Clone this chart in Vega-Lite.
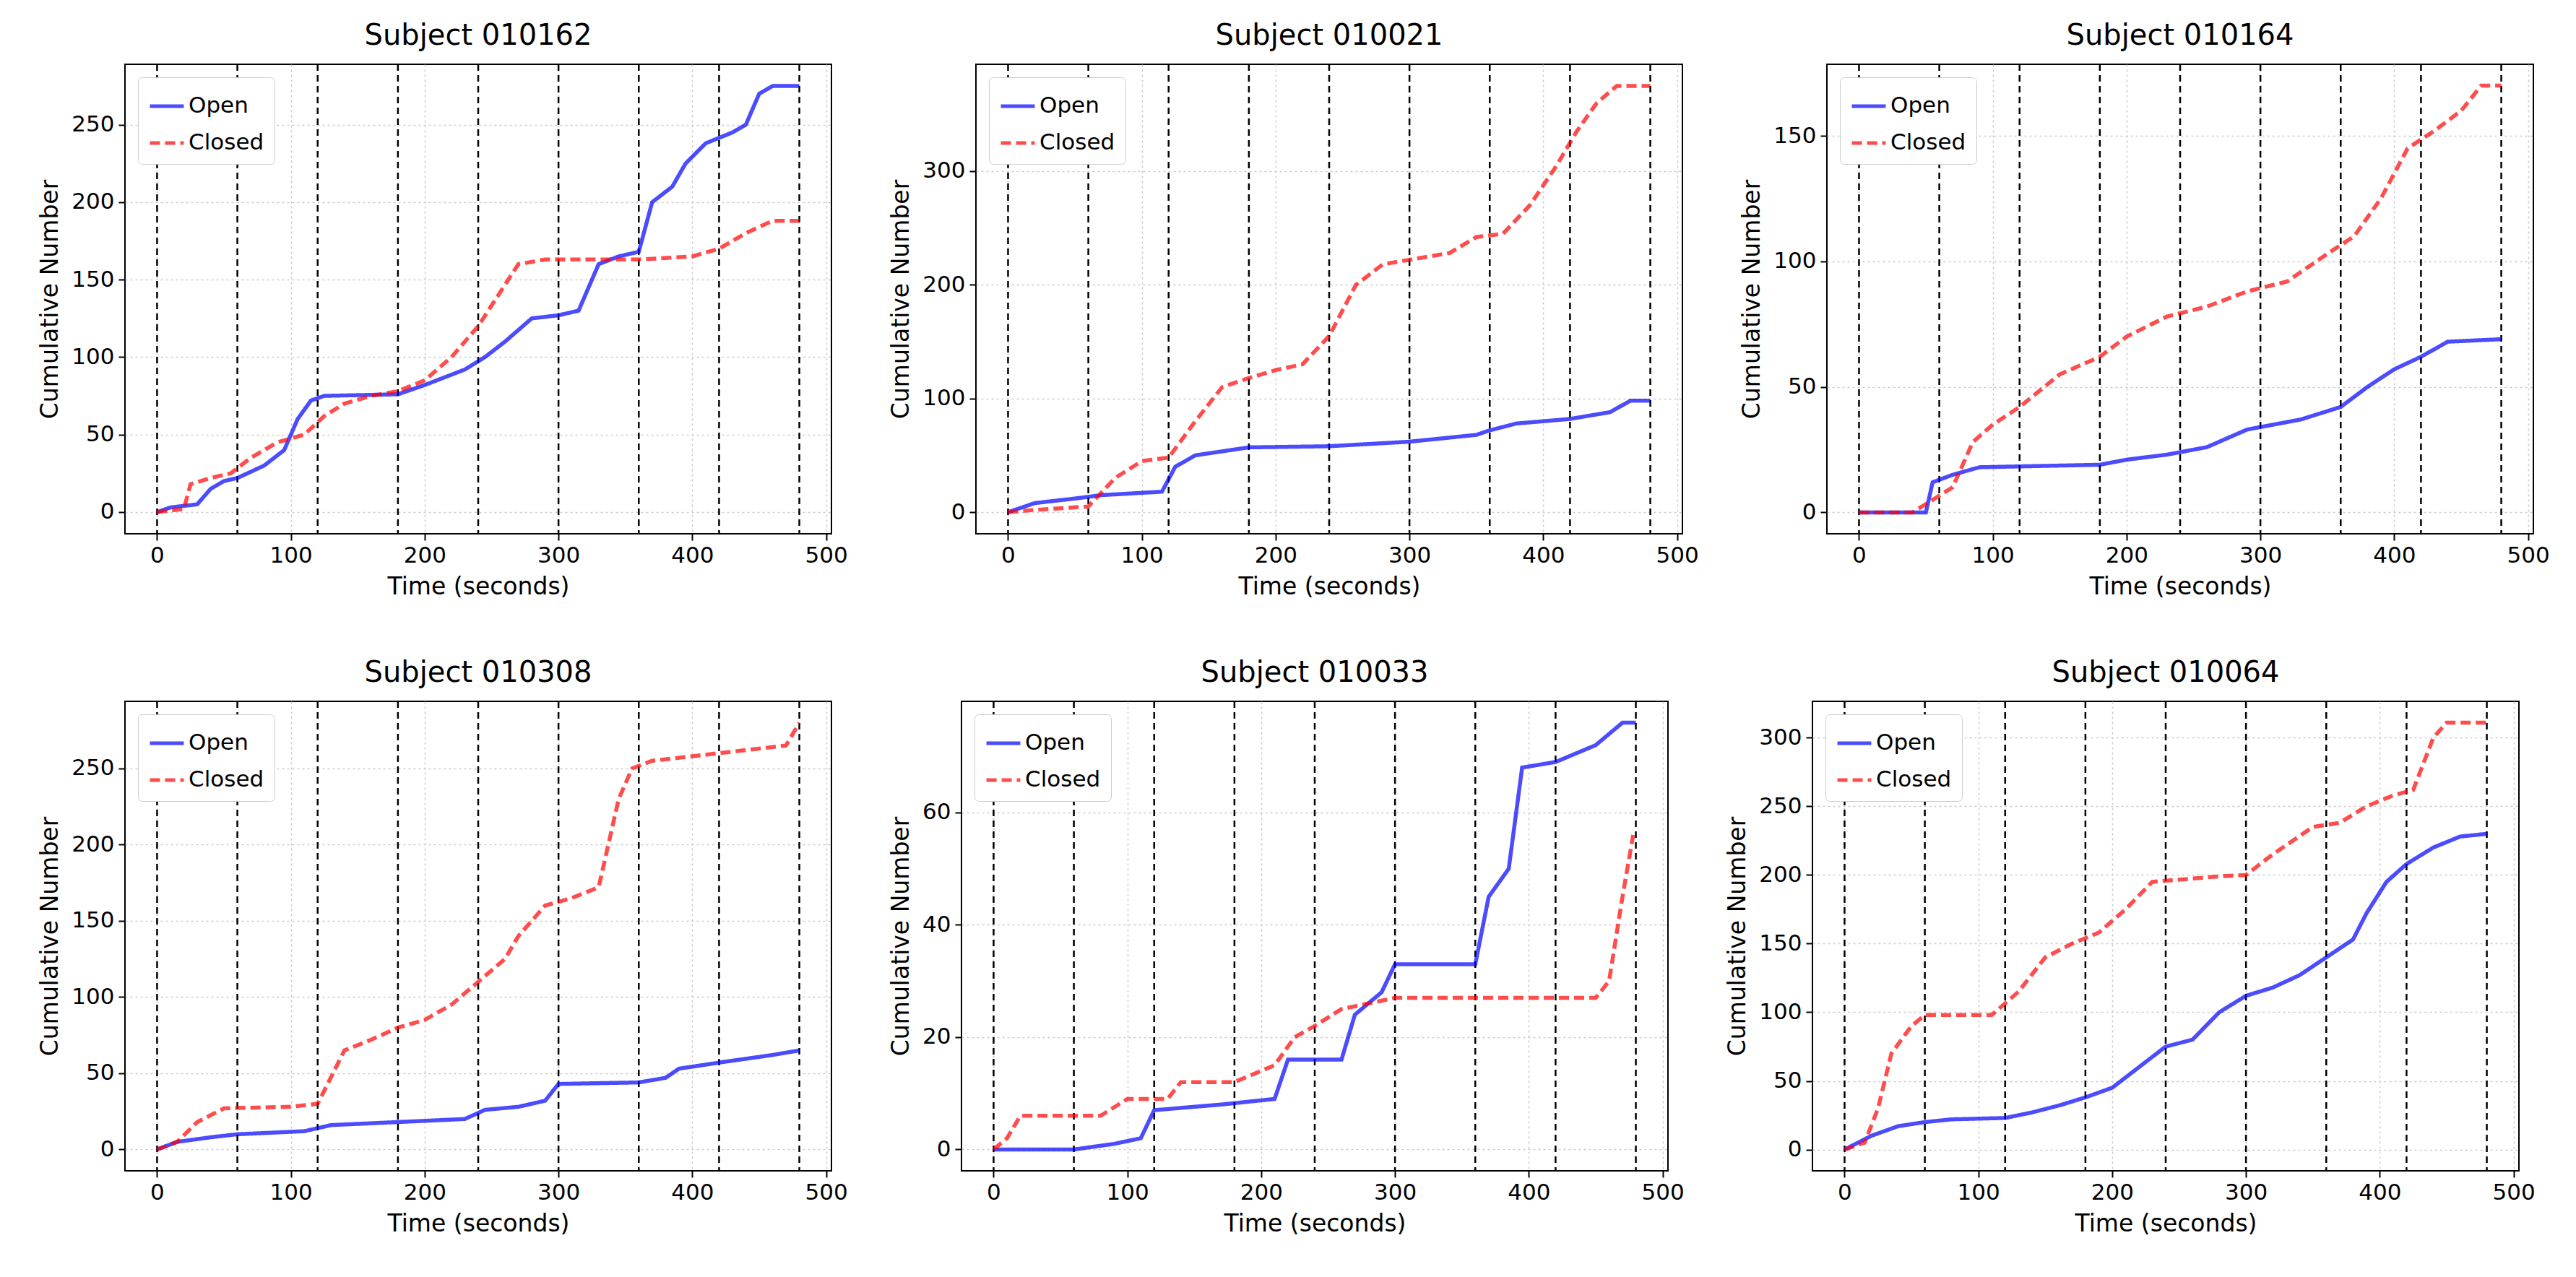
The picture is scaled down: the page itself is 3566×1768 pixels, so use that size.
{"$schema":"https://vega.github.io/schema/vega-lite/v6.json","background":"white","padding":{"left":52,"top":28,"right":20,"bottom":10},
"config":{"font":"DejaVu Sans","view":{"stroke":"black","strokeWidth":2},"title":{"fontSize":40,"fontWeight":"normal","font":"DejaVu Sans","offset":18},
"axis":{"labelFontSize":31,"titleFontSize":33,"titleFontWeight":"normal","labelFont":"DejaVu Sans","titleFont":"DejaVu Sans","grid":true,"gridColor":"#cccccc","gridDash":[3,4],"gridWidth":1.5,"domain":false,"tickColor":"black","tickWidth":2,"tickSize":9,"labelColor":"black","titleColor":"black","labelPadding":6,"titlePadding":12},
"legend":{"orient":"top-left","offset":18,"labelFontSize":31,"symbolType":"stroke","symbolSize":2200,"symbolStrokeWidth":5,"fillColor":"white","strokeColor":"#cccccc","cornerRadius":6,"padding":14,"rowPadding":10,"labelColor":"black"}},
"datasets":{"vl":[{"t":0},{"t":60},{"t":120},{"t":180},{"t":240},{"t":300},{"t":360},{"t":420},{"t":480}],
"d":[
{"s":"010162","c":"Open","t":0,"n":0},{"s":"010162","c":"Open","t":10,"n":3},{"s":"010162","c":"Open","t":30,"n":5},{"s":"010162","c":"Open","t":40,"n":15},{"s":"010162","c":"Open","t":50,"n":20},{"s":"010162","c":"Open","t":60,"n":22},{"s":"010162","c":"Open","t":80,"n":30},{"s":"010162","c":"Open","t":95,"n":40},{"s":"010162","c":"Open","t":105,"n":60},{"s":"010162","c":"Open","t":115,"n":72},{"s":"010162","c":"Open","t":125,"n":75},{"s":"010162","c":"Open","t":180,"n":76},{"s":"010162","c":"Open","t":200,"n":82},{"s":"010162","c":"Open","t":230,"n":92},{"s":"010162","c":"Open","t":245,"n":100},{"s":"010162","c":"Open","t":260,"n":110},{"s":"010162","c":"Open","t":280,"n":125},{"s":"010162","c":"Open","t":300,"n":127},{"s":"010162","c":"Open","t":315,"n":130},{"s":"010162","c":"Open","t":330,"n":160},{"s":"010162","c":"Open","t":345,"n":165},{"s":"010162","c":"Open","t":360,"n":168},{"s":"010162","c":"Open","t":370,"n":200},{"s":"010162","c":"Open","t":385,"n":210},{"s":"010162","c":"Open","t":395,"n":225},{"s":"010162","c":"Open","t":410,"n":238},{"s":"010162","c":"Open","t":430,"n":245},{"s":"010162","c":"Open","t":440,"n":250},{"s":"010162","c":"Open","t":450,"n":270},{"s":"010162","c":"Open","t":460,"n":275},{"s":"010162","c":"Open","t":480,"n":275},
{"s":"010162","c":"Closed","t":0,"n":0},{"s":"010162","c":"Closed","t":20,"n":2},{"s":"010162","c":"Closed","t":25,"n":18},{"s":"010162","c":"Closed","t":40,"n":22},{"s":"010162","c":"Closed","t":55,"n":25},{"s":"010162","c":"Closed","t":70,"n":35},{"s":"010162","c":"Closed","t":90,"n":45},{"s":"010162","c":"Closed","t":110,"n":50},{"s":"010162","c":"Closed","t":125,"n":62},{"s":"010162","c":"Closed","t":140,"n":70},{"s":"010162","c":"Closed","t":160,"n":75},{"s":"010162","c":"Closed","t":180,"n":78},{"s":"010162","c":"Closed","t":200,"n":85},{"s":"010162","c":"Closed","t":220,"n":100},{"s":"010162","c":"Closed","t":240,"n":120},{"s":"010162","c":"Closed","t":255,"n":140},{"s":"010162","c":"Closed","t":270,"n":160},{"s":"010162","c":"Closed","t":290,"n":163},{"s":"010162","c":"Closed","t":360,"n":163},{"s":"010162","c":"Closed","t":400,"n":165},{"s":"010162","c":"Closed","t":420,"n":170},{"s":"010162","c":"Closed","t":440,"n":180},{"s":"010162","c":"Closed","t":460,"n":188},{"s":"010162","c":"Closed","t":480,"n":188},
{"s":"010021","c":"Open","t":0,"n":0},{"s":"010021","c":"Open","t":20,"n":8},{"s":"010021","c":"Open","t":50,"n":12},{"s":"010021","c":"Open","t":70,"n":15},{"s":"010021","c":"Open","t":115,"n":18},{"s":"010021","c":"Open","t":125,"n":40},{"s":"010021","c":"Open","t":140,"n":50},{"s":"010021","c":"Open","t":180,"n":57},{"s":"010021","c":"Open","t":240,"n":58},{"s":"010021","c":"Open","t":300,"n":62},{"s":"010021","c":"Open","t":350,"n":68},{"s":"010021","c":"Open","t":360,"n":72},{"s":"010021","c":"Open","t":380,"n":78},{"s":"010021","c":"Open","t":420,"n":82},{"s":"010021","c":"Open","t":450,"n":88},{"s":"010021","c":"Open","t":465,"n":98},{"s":"010021","c":"Open","t":480,"n":98},
{"s":"010021","c":"Closed","t":0,"n":0},{"s":"010021","c":"Closed","t":20,"n":2},{"s":"010021","c":"Closed","t":60,"n":5},{"s":"010021","c":"Closed","t":80,"n":30},{"s":"010021","c":"Closed","t":100,"n":45},{"s":"010021","c":"Closed","t":120,"n":48},{"s":"010021","c":"Closed","t":140,"n":80},{"s":"010021","c":"Closed","t":160,"n":110},{"s":"010021","c":"Closed","t":180,"n":118},{"s":"010021","c":"Closed","t":200,"n":125},{"s":"010021","c":"Closed","t":220,"n":130},{"s":"010021","c":"Closed","t":240,"n":155},{"s":"010021","c":"Closed","t":260,"n":200},{"s":"010021","c":"Closed","t":280,"n":218},{"s":"010021","c":"Closed","t":300,"n":222},{"s":"010021","c":"Closed","t":330,"n":228},{"s":"010021","c":"Closed","t":350,"n":242},{"s":"010021","c":"Closed","t":370,"n":245},{"s":"010021","c":"Closed","t":390,"n":270},{"s":"010021","c":"Closed","t":410,"n":305},{"s":"010021","c":"Closed","t":425,"n":335},{"s":"010021","c":"Closed","t":440,"n":360},{"s":"010021","c":"Closed","t":455,"n":375},{"s":"010021","c":"Closed","t":480,"n":375},
{"s":"010164","c":"Open","t":0,"n":0},{"s":"010164","c":"Open","t":50,"n":0},{"s":"010164","c":"Open","t":55,"n":12},{"s":"010164","c":"Open","t":70,"n":15},{"s":"010164","c":"Open","t":90,"n":18},{"s":"010164","c":"Open","t":180,"n":19},{"s":"010164","c":"Open","t":200,"n":21},{"s":"010164","c":"Open","t":230,"n":23},{"s":"010164","c":"Open","t":260,"n":26},{"s":"010164","c":"Open","t":290,"n":33},{"s":"010164","c":"Open","t":330,"n":37},{"s":"010164","c":"Open","t":360,"n":42},{"s":"010164","c":"Open","t":380,"n":50},{"s":"010164","c":"Open","t":400,"n":57},{"s":"010164","c":"Open","t":420,"n":62},{"s":"010164","c":"Open","t":440,"n":68},{"s":"010164","c":"Open","t":480,"n":69},
{"s":"010164","c":"Closed","t":0,"n":0},{"s":"010164","c":"Closed","t":40,"n":0},{"s":"010164","c":"Closed","t":55,"n":5},{"s":"010164","c":"Closed","t":70,"n":10},{"s":"010164","c":"Closed","t":85,"n":28},{"s":"010164","c":"Closed","t":100,"n":35},{"s":"010164","c":"Closed","t":120,"n":42},{"s":"010164","c":"Closed","t":150,"n":55},{"s":"010164","c":"Closed","t":180,"n":62},{"s":"010164","c":"Closed","t":200,"n":70},{"s":"010164","c":"Closed","t":230,"n":78},{"s":"010164","c":"Closed","t":260,"n":82},{"s":"010164","c":"Closed","t":290,"n":88},{"s":"010164","c":"Closed","t":320,"n":92},{"s":"010164","c":"Closed","t":350,"n":103},{"s":"010164","c":"Closed","t":370,"n":110},{"s":"010164","c":"Closed","t":390,"n":125},{"s":"010164","c":"Closed","t":410,"n":145},{"s":"010164","c":"Closed","t":430,"n":152},{"s":"010164","c":"Closed","t":450,"n":160},{"s":"010164","c":"Closed","t":465,"n":170},{"s":"010164","c":"Closed","t":480,"n":170},
{"s":"010308","c":"Open","t":0,"n":0},{"s":"010308","c":"Open","t":15,"n":5},{"s":"010308","c":"Open","t":40,"n":8},{"s":"010308","c":"Open","t":60,"n":10},{"s":"010308","c":"Open","t":110,"n":12},{"s":"010308","c":"Open","t":130,"n":16},{"s":"010308","c":"Open","t":180,"n":18},{"s":"010308","c":"Open","t":230,"n":20},{"s":"010308","c":"Open","t":245,"n":26},{"s":"010308","c":"Open","t":270,"n":28},{"s":"010308","c":"Open","t":290,"n":32},{"s":"010308","c":"Open","t":300,"n":43},{"s":"010308","c":"Open","t":360,"n":44},{"s":"010308","c":"Open","t":380,"n":47},{"s":"010308","c":"Open","t":390,"n":53},{"s":"010308","c":"Open","t":420,"n":57},{"s":"010308","c":"Open","t":460,"n":62},{"s":"010308","c":"Open","t":480,"n":65},
{"s":"010308","c":"Closed","t":0,"n":0},{"s":"010308","c":"Closed","t":15,"n":5},{"s":"010308","c":"Closed","t":30,"n":18},{"s":"010308","c":"Closed","t":50,"n":27},{"s":"010308","c":"Closed","t":100,"n":28},{"s":"010308","c":"Closed","t":120,"n":30},{"s":"010308","c":"Closed","t":140,"n":65},{"s":"010308","c":"Closed","t":160,"n":72},{"s":"010308","c":"Closed","t":180,"n":80},{"s":"010308","c":"Closed","t":200,"n":85},{"s":"010308","c":"Closed","t":220,"n":95},{"s":"010308","c":"Closed","t":240,"n":110},{"s":"010308","c":"Closed","t":260,"n":125},{"s":"010308","c":"Closed","t":270,"n":140},{"s":"010308","c":"Closed","t":290,"n":160},{"s":"010308","c":"Closed","t":310,"n":165},{"s":"010308","c":"Closed","t":330,"n":172},{"s":"010308","c":"Closed","t":345,"n":230},{"s":"010308","c":"Closed","t":355,"n":250},{"s":"010308","c":"Closed","t":370,"n":255},{"s":"010308","c":"Closed","t":400,"n":258},{"s":"010308","c":"Closed","t":440,"n":262},{"s":"010308","c":"Closed","t":470,"n":265},{"s":"010308","c":"Closed","t":480,"n":280},
{"s":"010033","c":"Open","t":0,"n":0},{"s":"010033","c":"Open","t":60,"n":0},{"s":"010033","c":"Open","t":90,"n":1},{"s":"010033","c":"Open","t":110,"n":2},{"s":"010033","c":"Open","t":120,"n":7},{"s":"010033","c":"Open","t":170,"n":8},{"s":"010033","c":"Open","t":210,"n":9},{"s":"010033","c":"Open","t":220,"n":16},{"s":"010033","c":"Open","t":260,"n":16},{"s":"010033","c":"Open","t":270,"n":24},{"s":"010033","c":"Open","t":290,"n":28},{"s":"010033","c":"Open","t":300,"n":33},{"s":"010033","c":"Open","t":360,"n":33},{"s":"010033","c":"Open","t":370,"n":45},{"s":"010033","c":"Open","t":385,"n":50},{"s":"010033","c":"Open","t":395,"n":68},{"s":"010033","c":"Open","t":420,"n":69},{"s":"010033","c":"Open","t":450,"n":72},{"s":"010033","c":"Open","t":470,"n":76},{"s":"010033","c":"Open","t":480,"n":76},
{"s":"010033","c":"Closed","t":0,"n":0},{"s":"010033","c":"Closed","t":10,"n":2},{"s":"010033","c":"Closed","t":20,"n":6},{"s":"010033","c":"Closed","t":80,"n":6},{"s":"010033","c":"Closed","t":100,"n":9},{"s":"010033","c":"Closed","t":130,"n":9},{"s":"010033","c":"Closed","t":140,"n":12},{"s":"010033","c":"Closed","t":180,"n":12},{"s":"010033","c":"Closed","t":210,"n":15},{"s":"010033","c":"Closed","t":225,"n":20},{"s":"010033","c":"Closed","t":240,"n":22},{"s":"010033","c":"Closed","t":260,"n":25},{"s":"010033","c":"Closed","t":300,"n":27},{"s":"010033","c":"Closed","t":450,"n":27},{"s":"010033","c":"Closed","t":460,"n":30},{"s":"010033","c":"Closed","t":470,"n":45},{"s":"010033","c":"Closed","t":478,"n":56},
{"s":"010064","c":"Open","t":0,"n":0},{"s":"010064","c":"Open","t":20,"n":10},{"s":"010064","c":"Open","t":40,"n":17},{"s":"010064","c":"Open","t":60,"n":20},{"s":"010064","c":"Open","t":80,"n":22},{"s":"010064","c":"Open","t":120,"n":23},{"s":"010064","c":"Open","t":140,"n":27},{"s":"010064","c":"Open","t":160,"n":32},{"s":"010064","c":"Open","t":180,"n":38},{"s":"010064","c":"Open","t":200,"n":45},{"s":"010064","c":"Open","t":220,"n":60},{"s":"010064","c":"Open","t":240,"n":75},{"s":"010064","c":"Open","t":260,"n":80},{"s":"010064","c":"Open","t":280,"n":100},{"s":"010064","c":"Open","t":300,"n":112},{"s":"010064","c":"Open","t":320,"n":118},{"s":"010064","c":"Open","t":340,"n":127},{"s":"010064","c":"Open","t":360,"n":140},{"s":"010064","c":"Open","t":380,"n":153},{"s":"010064","c":"Open","t":390,"n":172},{"s":"010064","c":"Open","t":405,"n":195},{"s":"010064","c":"Open","t":420,"n":208},{"s":"010064","c":"Open","t":440,"n":220},{"s":"010064","c":"Open","t":460,"n":228},{"s":"010064","c":"Open","t":480,"n":230},
{"s":"010064","c":"Closed","t":0,"n":0},{"s":"010064","c":"Closed","t":15,"n":5},{"s":"010064","c":"Closed","t":25,"n":30},{"s":"010064","c":"Closed","t":35,"n":70},{"s":"010064","c":"Closed","t":50,"n":90},{"s":"010064","c":"Closed","t":60,"n":98},{"s":"010064","c":"Closed","t":110,"n":98},{"s":"010064","c":"Closed","t":130,"n":115},{"s":"010064","c":"Closed","t":150,"n":140},{"s":"010064","c":"Closed","t":170,"n":150},{"s":"010064","c":"Closed","t":190,"n":158},{"s":"010064","c":"Closed","t":210,"n":175},{"s":"010064","c":"Closed","t":230,"n":195},{"s":"010064","c":"Closed","t":280,"n":199},{"s":"010064","c":"Closed","t":300,"n":200},{"s":"010064","c":"Closed","t":320,"n":215},{"s":"010064","c":"Closed","t":350,"n":235},{"s":"010064","c":"Closed","t":370,"n":238},{"s":"010064","c":"Closed","t":390,"n":250},{"s":"010064","c":"Closed","t":410,"n":258},{"s":"010064","c":"Closed","t":425,"n":262},{"s":"010064","c":"Closed","t":440,"n":300},{"s":"010064","c":"Closed","t":450,"n":311},{"s":"010064","c":"Closed","t":480,"n":311}
]},
"spacing":80,
"resolve":{"scale":{"x":"independent","y":"independent","color":"independent","strokeDash":"independent"},"legend":{"color":"independent","strokeDash":"independent"}},
"vconcat":[
{"spacing":55,"resolve":{"scale":{"x":"independent","y":"independent","color":"independent","strokeDash":"independent"},"legend":{"color":"independent","strokeDash":"independent"}},
"hconcat":[
{"title":"Subject 010162","width":978,"height":650,"layer":[
{"data":{"name":"vl"},"mark":{"type":"rule","color":"black","strokeWidth":2.5,"strokeDash":[9,6]},"encoding":{"x":{"field":"t","type":"quantitative","scale":{"domain":[-24,504],"nice":false}}}},
{"data":{"name":"d"},"transform":[{"filter":"datum.s=='010162'"}],"mark":{"type":"line","strokeWidth":5.5,"opacity":0.7},"encoding":{"x":{"field":"t","type":"quantitative","title":"Time (seconds)","scale":{"domain":[-24,504],"nice":false},"axis":{"values":[0,100,200,300,400,500]}},"y":{"field":"n","type":"quantitative","title":"Cumulative Number","scale":{"domain":[-14,289],"nice":false,"zero":false},"axis":{"values":[0,50,100,150,200,250]}},"color":{"field":"c","type":"nominal","scale":{"domain":["Open","Closed"],"range":["blue","red"]},"legend":{"title":null}},"strokeDash":{"field":"c","type":"nominal","scale":{"domain":["Open","Closed"],"range":[[1,0],[14,7]]},"legend":{"title":null}}}}]},
{"title":"Subject 010021","width":978,"height":650,"layer":[
{"data":{"name":"vl"},"mark":{"type":"rule","color":"black","strokeWidth":2.5,"strokeDash":[9,6]},"encoding":{"x":{"field":"t","type":"quantitative","scale":{"domain":[-24,504],"nice":false}}}},
{"data":{"name":"d"},"transform":[{"filter":"datum.s=='010021'"}],"mark":{"type":"line","strokeWidth":5.5,"opacity":0.7},"encoding":{"x":{"field":"t","type":"quantitative","title":"Time (seconds)","scale":{"domain":[-24,504],"nice":false},"axis":{"values":[0,100,200,300,400,500]}},"y":{"field":"n","type":"quantitative","title":"Cumulative Number","scale":{"domain":[-19,394],"nice":false,"zero":false},"axis":{"values":[0,100,200,300]}},"color":{"field":"c","type":"nominal","scale":{"domain":["Open","Closed"],"range":["blue","red"]},"legend":{"title":null}},"strokeDash":{"field":"c","type":"nominal","scale":{"domain":["Open","Closed"],"range":[[1,0],[14,7]]},"legend":{"title":null}}}}]},
{"title":"Subject 010164","width":978,"height":650,"layer":[
{"data":{"name":"vl"},"mark":{"type":"rule","color":"black","strokeWidth":2.5,"strokeDash":[9,6]},"encoding":{"x":{"field":"t","type":"quantitative","scale":{"domain":[-24,504],"nice":false}}}},
{"data":{"name":"d"},"transform":[{"filter":"datum.s=='010164'"}],"mark":{"type":"line","strokeWidth":5.5,"opacity":0.7},"encoding":{"x":{"field":"t","type":"quantitative","title":"Time (seconds)","scale":{"domain":[-24,504],"nice":false},"axis":{"values":[0,100,200,300,400,500]}},"y":{"field":"n","type":"quantitative","title":"Cumulative Number","scale":{"domain":[-8.5,178.5],"nice":false,"zero":false},"axis":{"values":[0,50,100,150]}},"color":{"field":"c","type":"nominal","scale":{"domain":["Open","Closed"],"range":["blue","red"]},"legend":{"title":null}},"strokeDash":{"field":"c","type":"nominal","scale":{"domain":["Open","Closed"],"range":[[1,0],[14,7]]},"legend":{"title":null}}}}]}
]},
{"spacing":55,"resolve":{"scale":{"x":"independent","y":"independent","color":"independent","strokeDash":"independent"},"legend":{"color":"independent","strokeDash":"independent"}},
"hconcat":[
{"title":"Subject 010308","width":978,"height":650,"layer":[
{"data":{"name":"vl"},"mark":{"type":"rule","color":"black","strokeWidth":2.5,"strokeDash":[9,6]},"encoding":{"x":{"field":"t","type":"quantitative","scale":{"domain":[-24,504],"nice":false}}}},
{"data":{"name":"d"},"transform":[{"filter":"datum.s=='010308'"}],"mark":{"type":"line","strokeWidth":5.5,"opacity":0.7},"encoding":{"x":{"field":"t","type":"quantitative","title":"Time (seconds)","scale":{"domain":[-24,504],"nice":false},"axis":{"values":[0,100,200,300,400,500]}},"y":{"field":"n","type":"quantitative","title":"Cumulative Number","scale":{"domain":[-14,294],"nice":false,"zero":false},"axis":{"values":[0,50,100,150,200,250]}},"color":{"field":"c","type":"nominal","scale":{"domain":["Open","Closed"],"range":["blue","red"]},"legend":{"title":null}},"strokeDash":{"field":"c","type":"nominal","scale":{"domain":["Open","Closed"],"range":[[1,0],[14,7]]},"legend":{"title":null}}}}]},
{"title":"Subject 010033","width":978,"height":650,"layer":[
{"data":{"name":"vl"},"mark":{"type":"rule","color":"black","strokeWidth":2.5,"strokeDash":[9,6]},"encoding":{"x":{"field":"t","type":"quantitative","scale":{"domain":[-24,504],"nice":false}}}},
{"data":{"name":"d"},"transform":[{"filter":"datum.s=='010033'"}],"mark":{"type":"line","strokeWidth":5.5,"opacity":0.7},"encoding":{"x":{"field":"t","type":"quantitative","title":"Time (seconds)","scale":{"domain":[-24,504],"nice":false},"axis":{"values":[0,100,200,300,400,500]}},"y":{"field":"n","type":"quantitative","title":"Cumulative Number","scale":{"domain":[-3.8,79.8],"nice":false,"zero":false},"axis":{"values":[0,20,40,60]}},"color":{"field":"c","type":"nominal","scale":{"domain":["Open","Closed"],"range":["blue","red"]},"legend":{"title":null}},"strokeDash":{"field":"c","type":"nominal","scale":{"domain":["Open","Closed"],"range":[[1,0],[14,7]]},"legend":{"title":null}}}}]},
{"title":"Subject 010064","width":978,"height":650,"layer":[
{"data":{"name":"vl"},"mark":{"type":"rule","color":"black","strokeWidth":2.5,"strokeDash":[9,6]},"encoding":{"x":{"field":"t","type":"quantitative","scale":{"domain":[-24,504],"nice":false}}}},
{"data":{"name":"d"},"transform":[{"filter":"datum.s=='010064'"}],"mark":{"type":"line","strokeWidth":5.5,"opacity":0.7},"encoding":{"x":{"field":"t","type":"quantitative","title":"Time (seconds)","scale":{"domain":[-24,504],"nice":false},"axis":{"values":[0,100,200,300,400,500]}},"y":{"field":"n","type":"quantitative","title":"Cumulative Number","scale":{"domain":[-15.5,326.5],"nice":false,"zero":false},"axis":{"values":[0,50,100,150,200,250,300]}},"color":{"field":"c","type":"nominal","scale":{"domain":["Open","Closed"],"range":["blue","red"]},"legend":{"title":null}},"strokeDash":{"field":"c","type":"nominal","scale":{"domain":["Open","Closed"],"range":[[1,0],[14,7]]},"legend":{"title":null}}}}]}
]}
]}
